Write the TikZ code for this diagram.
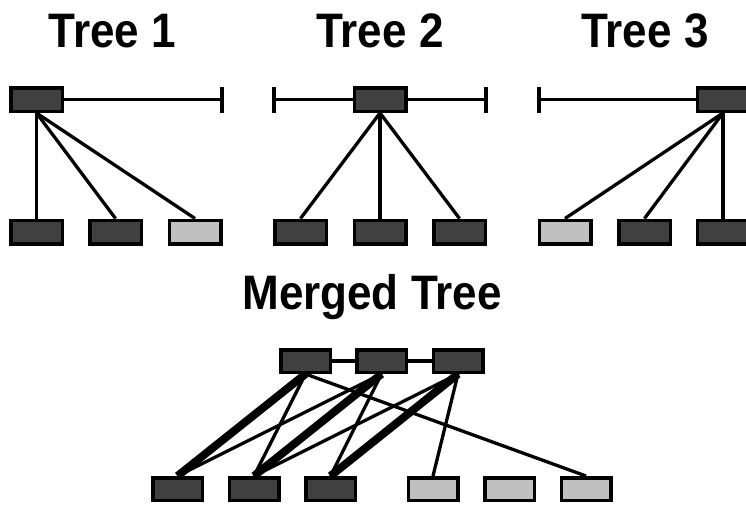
\documentclass[tikz,border=0pt]{standalone}
\usepackage{fontspec}
\setmainfont{Liberation Sans}
\usetikzlibrary{backgrounds}
\definecolor{darkbox}{HTML}{404040}
\definecolor{lightbox}{HTML}{C0C0C0}
\tikzset{
  box/.style={draw=black, line width=3.5pt, rectangle, inner sep=0pt, minimum width=51.5pt, minimum height=23.5pt},
  mbox/.style={box, minimum width=49.5pt, minimum height=22.5pt},
  darkb/.style={fill=darkbox},
  lightb/.style={fill=lightbox},
  title/.style={anchor=base, inner sep=0pt, font=\bfseries\fontsize{44}{50}\selectfont},
  thin/.style={draw=black, line width=3.3pt},
  thick/.style={draw=black, line width=8pt},
}
\begin{document}
\begin{tikzpicture}[x=1pt, y=-1pt]
\useasboundingbox (0,0) rectangle (746,506);
\clip (0,0) rectangle (746,506);

% titles
\node[title] (t1) at (112.5,47) {\scalebox{1}[1.1]{Tree 1}};
\node[title] (t2) at (380,47) {\scalebox{1}[1.1]{Tree 2}};
\node[title] (t3) at (645,47) {\scalebox{1}[1.1]{Tree 3}};
\node[title] (tm) at (372,309) {\scalebox{1}[1.1]{Merged Tree}};

% Tree 1
\node[box,darkb] (a) at (36.5,99.5) {};
\node[box,darkb] (a1) at (36.5,232) {};
\node[box,darkb] (a2) at (115.5,232) {};
\node[box,lightb] (a3) at (195,232) {};
\coordinate (ae) at (222,99.5);
\coordinate (aet) at (222,86.5);
\coordinate (aeb) at (222,112.5);

% Tree 2
\node[box,darkb] (b) at (380,99.5) {};
\node[box,darkb] (b1) at (300.5,232) {};
\node[box,darkb] (b2) at (380,232) {};
\node[box,darkb] (b3) at (459.5,232) {};
\coordinate (bw) at (274,99.5);
\coordinate (bwt) at (274,86.5);
\coordinate (bwb) at (274,112.5);
\coordinate (be) at (486,99.5);
\coordinate (bet) at (486,86.5);
\coordinate (beb) at (486,112.5);

% Tree 3
\node[box,darkb] (c) at (723,99.5) {};
\node[box,lightb] (c1) at (565,232) {};
\node[box,darkb] (c2) at (644.5,232) {};
\node[box,darkb] (c3) at (723,232) {};
\coordinate (cw) at (539,99.5);
\coordinate (cwt) at (539,86.5);
\coordinate (cwb) at (539,112.5);

% Merged tree
\node[mbox,darkb] (m1) at (305.5,361) {};
\node[mbox,darkb] (m2) at (381.5,361) {};
\node[mbox,darkb] (m3) at (458,361) {};
\node[mbox,darkb] (n1) at (177.5,489) {};
\node[mbox,darkb] (n2) at (254,489) {};
\node[mbox,darkb] (n3) at (330.5,489) {};
\node[mbox,lightb] (n4) at (433,489) {};
\node[mbox,lightb] (n5) at (509.5,489) {};
\node[mbox,lightb] (n6) at (586,489) {};

\begin{scope}[on background layer]
  % Tree 1
  \draw[thin] (a.east) -- (ae);
  \draw[thin] (aet) -- (aeb);
  \draw[thin] (a.south) -- (a1.north);
  \draw[thin] (a.south) -- (a2.north);
  \draw[thin] (a.south) -- (a3.north);
  % Tree 2
  \draw[thin] (bw) -- (b.west);
  \draw[thin] (b.east) -- (be);
  \draw[thin] (bwt) -- (bwb);
  \draw[thin] (bet) -- (beb);
  \draw[thin] (b.south) -- (b1.north);
  \draw[thin] (b.south) -- (b2.north);
  \draw[thin] (b.south) -- (b3.north);
  % Tree 3
  \draw[thin] (cw) -- (c.west);
  \draw[thin] (cwt) -- (cwb);
  \draw[thin] (c.south) -- (c1.north);
  \draw[thin] (c.south) -- (c2.north);
  \draw[thin] (c.south) -- (c3.north);
  % Merged
  \draw[thin] (m1.east) -- (m2.west);
  \draw[thin] (m2.east) -- (m3.west);
  \draw[thick] (m1.south) -- (n1.north);
  \draw[thin] (m1.south) -- (n2.north);
  \draw[thin] (m1.south) -- (n6.north);
  \draw[thin] (m2.south) -- (n1.north);
  \draw[thick] (m2.south) -- (n2.north);
  \draw[thin] (m2.south) -- (n3.north);
  \draw[thin] (m3.south) -- (n2.north);
  \draw[thick] (m3.south) -- (n3.north);
  \draw[thin] (m3.south) -- (n4.north);
\end{scope}
\end{tikzpicture}
\end{document}
